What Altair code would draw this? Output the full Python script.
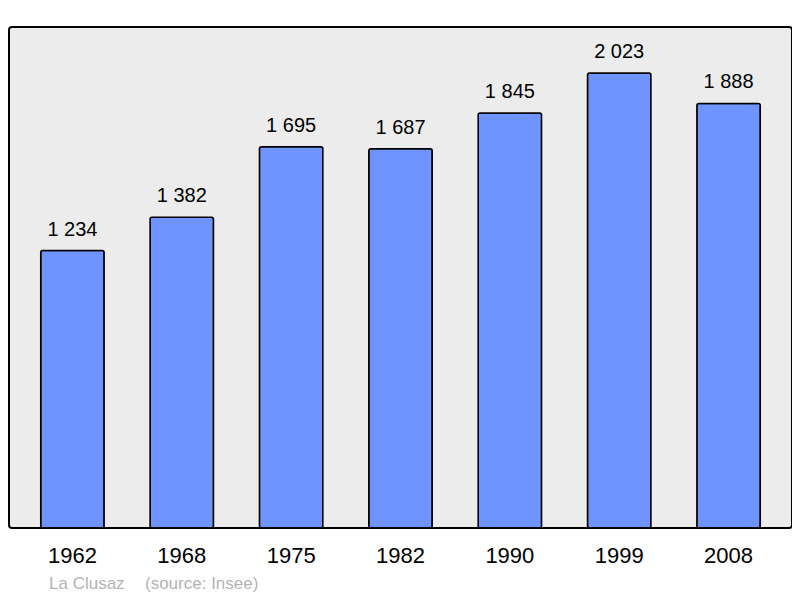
import altair as alt
import pandas as pd

years = ["1962", "1968", "1975", "1982", "1990", "1999", "2008"]
population = [1234, 1382, 1695, 1687, 1845, 2023, 1888]
labels = ["1 234", "1 382", "1 695", "1 687", "1 845", "2 023", "1 888"]
place = "La Clusaz"
source = "(source: Insee)"

df = pd.DataFrame({"year": years, "pop": population, "label": labels})

x = alt.X("year:O", sort=years,
          scale=alt.Scale(paddingInner=0.42, paddingOuter=0.29),
          axis=alt.Axis(title=None, labelAngle=0, domain=False, ticks=False,
                        labelFontSize=22, labelFont="Liberation Sans",
                        labelColor="black", labelPadding=17))
y = alt.Y("pop:Q", scale=alt.Scale(domain=[0, 2228], nice=False),
          axis=None)

bars = alt.Chart(df).mark_bar(color="#7094ff", stroke="black", strokeWidth=1.5,
                              cornerRadius=2).encode(x=x, y=y)
text = alt.Chart(df).mark_text(dy=-15, baseline="alphabetic", fontSize=20,
                               font="Liberation Sans", color="black").encode(
    x=x, y=y, text="label:N")

src1 = alt.Chart(pd.DataFrame({"t": [place]})).mark_text(
    align="left", baseline="middle", fontSize=17, font="Liberation Sans",
    color="#b4b4b4").encode(x=alt.value(40), y=alt.value(557), text="t:N")
src2 = alt.Chart(pd.DataFrame({"t": [source]})).mark_text(
    align="left", baseline="middle", fontSize=17, font="Liberation Sans",
    color="#b4b4b4").encode(x=alt.value(136), y=alt.value(557), text="t:N")

chart = alt.layer(bars, text, src1, src2).properties(
    width=783, height=501,
    autosize=alt.AutoSizeParams(type="none"),
    padding={"left": 1, "top": 19, "right": 0, "bottom": 66},
).configure(
    background="white",
    view=alt.ViewConfig(fill="#ececec", stroke="black", strokeWidth=2,
                        cornerRadius=3),
)

chart.save("out.html", embed_options={"renderer": "svg", "actions": False})
